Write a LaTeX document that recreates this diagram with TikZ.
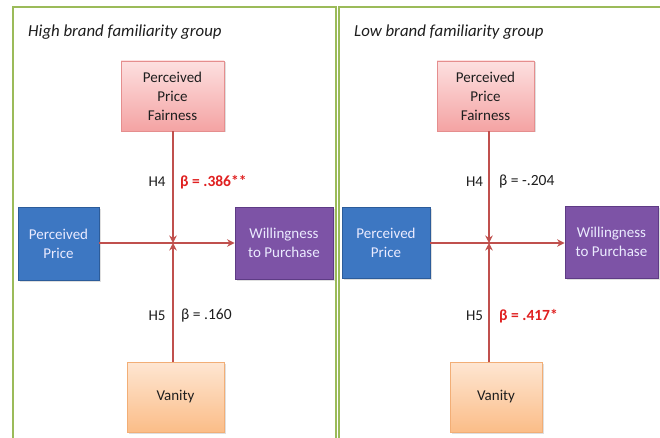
\documentclass[tikz,border=0pt]{standalone}
\usepackage{fontspec}
\setmainfont{Carlito}
\usetikzlibrary{arrows.meta,shadows}
\definecolor{frameg}{HTML}{9BBB59}
\definecolor{linered}{HTML}{C0504D}
\definecolor{pinktop}{HTML}{FDE0E0}
\definecolor{pinkbot}{HTML}{F4A3A3}
\definecolor{pinkedge}{HTML}{E58E8E}
\definecolor{orgtop}{HTML}{FEE6D2}
\definecolor{orgbot}{HTML}{FBBD88}
\definecolor{orgedge}{HTML}{F2AE76}
\definecolor{bluefill}{HTML}{3D77C2}
\definecolor{blueedge}{HTML}{2C5C9A}
\definecolor{purfill}{HTML}{7D53A6}
\definecolor{puredge}{HTML}{5E3B85}
\definecolor{sigred}{HTML}{E02020}
\definecolor{txt}{HTML}{1E1E1E}
\tikzset{
  x=1pt, y=-1pt,
  basebox/.style={draw, line width=0.8pt, align=center, inner sep=2pt,
    font=\fontsize{15}{19}\selectfont, drop shadow={shadow xshift=1.5pt, shadow yshift=-1.5pt, opacity=0.25}},
  pinkbox/.style={basebox, draw=pinkedge, top color=pinktop, bottom color=pinkbot, text=txt},
  orgbox/.style={basebox, draw=orgedge, top color=orgtop, bottom color=orgbot, text=txt},
  bluebox/.style={basebox, draw=blueedge, fill=bluefill, text=white!92!blue},
  purbox/.style={basebox, draw=puredge, fill=purfill, text=white!92!blue},
  conn/.style={draw=linered, line width=2.2pt},
  arr/.style={conn, -{Stealth[length=7.5pt,width=7.5pt]}},
  hlab/.style={font=\fontsize{15}{17}\selectfont, text=txt, inner sep=0pt},
  blab/.style={font=\fontsize{15.5}{17}\selectfont, text=txt, inner sep=0pt, anchor=west},
  siglab/.style={font=\fontsize{15.5}{17}\selectfont\bfseries, text=sigred, inner sep=0pt, anchor=west},
  ttl/.style={font=\fontsize{16.8}{19}\selectfont\itshape, text=txt, anchor=west, inner sep=0pt},
  panel/.style={draw=frameg, line width=2pt}
}
\begin{document}
\begin{tikzpicture}
\useasboundingbox (0,0) rectangle (660,438);
\begin{scope}
\clip (0,0) rectangle (660,438);
\fill[white] (0,0) rectangle (660,438);
% panels
\draw[panel] (12.5,7) rectangle (336,450);
\draw[panel] (339,7) rectangle (680,450);

% ===== Left panel =====
\node[ttl] (tL) at (28,32) {High brand familiarity group};
\node[pinkbox, minimum width=103pt, minimum height=70pt] (ppfL) at (172.5,96) {Perceived\\Price\\Fairness};
\node[bluebox, minimum width=81pt, minimum height=73pt] (ppL) at (58.5,243.5) {Perceived\\Price};
\node[purbox, minimum width=98pt, minimum height=72pt] (wtpL) at (284,243) {Willingness\\to Purchase};
\node[orgbox, minimum width=97pt, minimum height=70pt] (vanL) at (175.5,397) {Vanity};
\coordinate (xL) at (173,243);
\draw[arr] (ppL.east |- xL) -- (wtpL.west |- xL);
\draw[arr] (ppfL.south -| xL) -- (xL);
\draw[arr] (vanL.north -| xL) -- (xL);
\node[hlab] (h4L) at (157,182) {H4};
\node[siglab] (b4L) at (180,182) {β = .386**};
\node[hlab] (h5L) at (157,316) {H5};
\node[blab] (b5L) at (181,316) {β = .160};

% ===== Right panel =====
\node[ttl] (tR) at (354,32) {Low brand familiarity group};
\node[pinkbox, minimum width=97pt, minimum height=70pt] (ppfR) at (485.5,96) {Perceived\\Price\\Fairness};
\node[bluebox, minimum width=88pt, minimum height=71pt] (ppR) at (386,242.5) {Perceived\\Price};
\node[purbox, minimum width=93pt, minimum height=72pt] (wtpR) at (611.5,242) {Willingness\\to Purchase};
\node[orgbox, minimum width=92pt, minimum height=70pt] (vanR) at (496,397) {Vanity};
\coordinate (xR) at (489,243);
\draw[arr] (ppR.east |- xR) -- (wtpR.west |- xR);
\draw[arr] (ppfR.south -| xR) -- (xR);
\draw[arr] (vanR.north -| xR) -- (xR);
\node[hlab] (h4R) at (474.5,182) {H4};
\node[blab] (b4R) at (499,182) {β = -.204};
\node[hlab] (h5R) at (474.5,316) {H5};
\node[siglab] (b5R) at (499,316) {β = .417*};
\end{scope}
\end{tikzpicture}
\end{document}
